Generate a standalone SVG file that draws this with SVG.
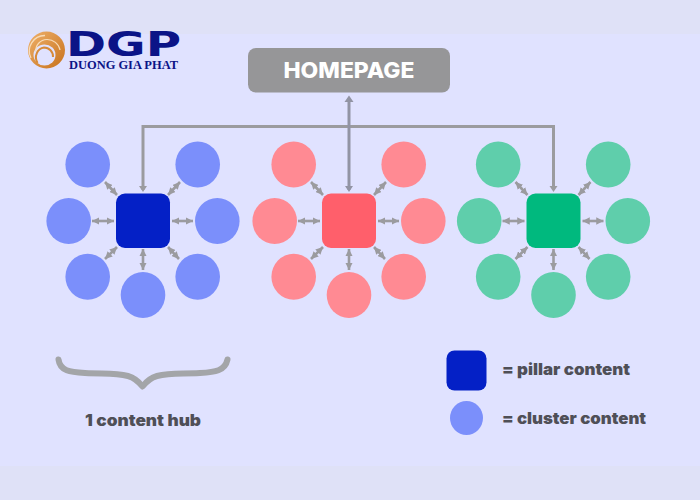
<svg xmlns="http://www.w3.org/2000/svg" xmlns:xlink="http://www.w3.org/1999/xlink" width="700" height="500" viewBox="0 0 700 500">
<style>
.line{fill:none;stroke:#9b9b9f;stroke-width:3}
.a{fill:none;stroke:#9b9b9f;stroke-width:2.6;marker-start:url(#ah);marker-end:url(#ah)}
.t{font-family:Inter,"Liberation Sans",sans-serif;font-weight:900;fill:#4f4f57;font-size:16px}
.blue{fill:#7b8ffb}.red{fill:#ff8a93}.green{fill:#5fceab}
</style>
<defs>
<marker id="ah" viewBox="0 0 6 6" refX="6" refY="3" markerWidth="2.8" markerHeight="2.8" orient="auto-start-reverse"><path d="M0 0L6 3L0 6z" fill="#9b9b9f"/></marker>
<linearGradient id="gold" x1="0" y1="0" x2="1" y2="1"><stop offset="0" stop-color="#eeb06a"/><stop offset="1" stop-color="#c8721c"/></linearGradient>
<g id="arrows">
<path class="a" d="M-38 -39L-26 -26"/><path class="a" d="M37 -39L25 -26"/>
<path class="a" d="M-51 0L-29 0"/><path class="a" d="M50 0L29 0"/>
<path class="a" d="M-38 38L-26 26"/><path class="a" d="M36 38L25 26"/>
<path class="a" d="M0 49L0 28"/>
</g>
<g id="spokes">
<ellipse cx="-55.3" cy="-56.5" rx="22.3" ry="23"/><ellipse cx="54.7" cy="-56.5" rx="22.3" ry="23"/>
<ellipse cx="-74.3" cy="0" rx="22.3" ry="23"/><ellipse cx="74.3" cy="0" rx="22.3" ry="23"/>
<ellipse cx="-55.3" cy="55.7" rx="22.3" ry="23"/><ellipse cx="54.7" cy="55.7" rx="22.3" ry="23"/>
<ellipse cx="0" cy="74" rx="22.3" ry="23"/>
</g>
</defs>
<rect width="700" height="500" fill="#e0e2ff"/>
<rect width="700" height="34" fill="#dfe1f7"/>
<rect y="466" width="700" height="34" fill="#dfe1f7"/>
<g id="logo">
<circle cx="46.500" cy="50" r="18.500" fill="url(#gold)"/>
<ellipse cx="44.500" cy="55" rx="11" ry="10.500" fill="#e0e2ff"/>
<g fill="none">
<path d="M31 58A15.500 15.500 0 0 1 45 35.500" stroke="#f8dcb8" stroke-width="1.3"/>
<path d="M36 52A11 11 0 0 1 47 39.500A13 13 0 0 1 60 50" stroke="#f8dcb8" stroke-width="1.2"/>
<path d="M37.500 63A9 10 0 0 1 44 47.500A9 9 0 0 1 53 57" stroke="#d78a38" stroke-width="2"/>
</g>
<text x="66" y="56" font-family="'DejaVu Sans',sans-serif" font-weight="700" font-size="34" fill="#0b1487" textLength="115" lengthAdjust="spacingAndGlyphs">DGP</text>
<text x="69" y="69" font-family="'Liberation Serif',serif" font-weight="700" font-size="11.500" fill="#0b1487" textLength="109" lengthAdjust="spacingAndGlyphs">DUONG GIA PHAT</text>
</g>
<g id="connectors">
<path class="line" d="M143 190V126.500H553.500V190"/>
<path class="line" d="M349 100V190" style="stroke:#9294a4"/>
<path d="M349 95.500L344.500 102H353.500z" fill="#9294a4"/>
<path d="M143 192L139 186H147z" fill="#9b9b9f"/>
<path d="M349 192L345 186H353z" fill="#9294a4"/>
<path d="M553.500 192L549.500 186H557.500z" fill="#9b9b9f"/>
<use xlink:href="#arrows" href="#arrows" transform="translate(143 221)"/>
<use xlink:href="#arrows" href="#arrows" transform="translate(349 221)"/>
<use xlink:href="#arrows" href="#arrows" transform="translate(553.500 221)"/>
</g>
<g id="homepage">
<rect x="248" y="48" width="202" height="44.500" rx="8" fill="#969698"/>
<text x="349" y="78" text-anchor="middle" font-family="Inter,'Liberation Sans',sans-serif" font-weight="800" font-size="22" fill="#fff" textLength="131" lengthAdjust="spacingAndGlyphs">HOMEPAGE</text>
</g>
<g id="hub-blue">
<use xlink:href="#spokes" href="#spokes" class="blue" transform="translate(143 221)"/>
<rect x="116" y="193.500" width="54" height="54.500" rx="9" fill="#0420c6"/>
</g>
<g id="hub-red">
<use xlink:href="#spokes" href="#spokes" class="red" transform="translate(349 221)"/>
<rect x="322" y="193.500" width="54" height="54.500" rx="9" fill="#ff5f6b"/>
</g>
<g id="hub-green">
<use xlink:href="#spokes" href="#spokes" class="green" transform="translate(553.500 221)"/>
<rect x="526.500" y="193.500" width="54" height="54.500" rx="9" fill="#00b97e"/>
</g>
<g id="brace">
<path d="M58.500 359.500C60 371 70 372 85 373C105 374 115 372.500 128 376C135 378 139 382 142.500 386.500C146 382 150 378 157 376C170 372.500 180 374 200 373C215 372 225 371 227.500 359.500" fill="none" stroke="#a3a5a8" stroke-width="6" stroke-linecap="round" stroke-linejoin="round"/>
<text class="t" x="143" y="426" text-anchor="middle" textLength="116" lengthAdjust="spacingAndGlyphs">1 content hub</text>
</g>
<g id="legend-pillar">
<rect x="446.500" y="350.500" width="40" height="40" rx="8" fill="#0420c6"/>
<text class="t" x="502" y="375" textLength="128" lengthAdjust="spacingAndGlyphs">= pillar content</text>
</g>
<g id="legend-cluster">
<ellipse cx="466.500" cy="418" rx="16.500" ry="17" fill="#7b8ffb"/>
<text class="t" x="502" y="424" textLength="144" lengthAdjust="spacingAndGlyphs">= cluster content</text>
</g>
</svg>
